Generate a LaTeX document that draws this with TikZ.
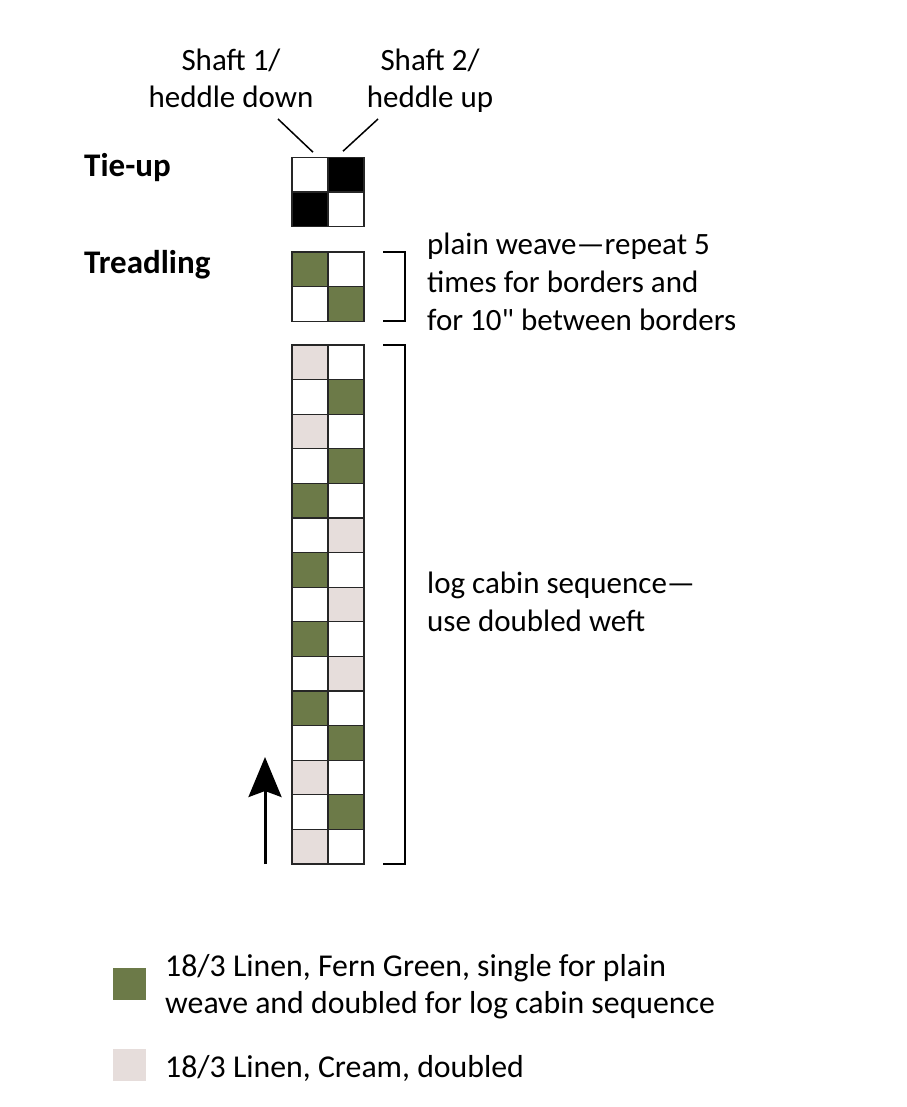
\documentclass[tikz,border=0pt]{standalone}
\usepackage{fontspec}
\setmainfont{Carlito}
\newfontfamily\quoteFace{Carlito}
\usetikzlibrary{arrows.meta}
\definecolor{fernGreen}{RGB}{108,122,72}
\definecolor{linenCream}{RGB}{230,221,219}
\colorlet{gridLine}{black!85}
\tikzset{
  cell/.style={draw=gridLine,line width=1.3pt,minimum width=36pt,minimum height=34.6pt,inner sep=0pt,outer sep=0pt},
  keyBox/.style={minimum width=33pt,minimum height=32pt,inner sep=0pt},
  noteText/.style={font=\fontsize{31}{38}\selectfont,inner sep=0pt},
  keyText/.style={font=\fontsize{31.8}{37}\selectfont,inner sep=0pt},
  headText/.style={font=\fontsize{33}{36}\selectfont\bfseries,inner sep=0pt},
  bracket/.style={line width=1.8pt},
  leader/.style={line width=1.5pt},
}
\NewDocumentCommand\DrawCell{mmmO{white}}%
{%
\node[cell,fill=#4] (#1) at ({#2},{#3}) {};%
}
\begin{document}
\begin{tikzpicture}[x=1pt,y=-1pt]
\useasboundingbox (0,0) rectangle (906,1107);
% tie-up
\DrawCell{tieA1}{310}{174.5}
\DrawCell{tieB1}{346}{174.5}[black]
\DrawCell{tieA2}{310}{209.5}[black]
\DrawCell{tieB2}{346}{209.5}
% treadling
\DrawCell{trA1}{310}{269.3}[fernGreen]
\DrawCell{trB1}{346}{269.3}
\DrawCell{trA2}{310}{303.9}
\DrawCell{trB2}{346}{303.9}[fernGreen]
\foreach \cl/\cr [count=\i] in {linenCream/white,white/fernGreen,linenCream/white,white/fernGreen,fernGreen/white,white/linenCream,fernGreen/white,white/linenCream,fernGreen/white,white/linenCream,fernGreen/white,white/fernGreen,linenCream/white,white/fernGreen,linenCream/white}
{
\DrawCell{lcA\i}{310}{345+34.6*(\i-0.5)}[\cl]
\DrawCell{lcB\i}{346}{345+34.6*(\i-0.5)}[\cr]
}
\node[noteText,font=\fontsize{31}{37}\selectfont,align=center,anchor=base] (shaftA) at (231,108) {Shaft 1/\\heddle down};
\node[noteText,font=\fontsize{31}{37}\selectfont,align=center,anchor=base] (shaftB) at (430,108) {Shaft 2/\\heddle up};
\coordinate (leadA) at (278,119);
\coordinate (leadB) at (378,119);
\draw[leader] (leadA) -- ([xshift=-15pt,yshift=5pt]tieA1.north east);
\draw[leader] (leadB) -- ([xshift=15pt,yshift=6pt]tieB1.north west);
\node[headText,anchor=base west] (tieLabel) at (84,177) {Tie-up};
\node[headText,anchor=base west] (treadLabel) at (84,273) {Treadling};
\draw[bracket] ([xshift=19pt]trB1.north east) -- ++(22,0) |- ([xshift=19pt]trB2.south east);
\draw[bracket] ([xshift=19pt]lcB1.north east) -- ++(22,0) |- ([xshift=19pt]lcB15.south east);
\node[noteText,align=left,anchor=base west] (plainNote) at (427,330) {plain weave---repeat 5\\times for borders and\\for 10{\quoteFace"} between borders};
\node[noteText,align=left,anchor=base west] (logNote) at (427,631) {log cabin sequence---\\use doubled weft};
\coordinate (arrowTip) at (265,757);
\draw[-{Stealth[length=40pt,width=33pt,inset=6pt]},line width=3pt] ([xshift=-27pt]lcA15.south west) -- (arrowTip);
% key
\node[keyBox,fill=fernGreen] (keyGreen) at (129.5,984) {};
\node[keyBox,fill=linenCream] (keyCream) at (129.5,1065) {};
\node[keyText,align=left,anchor=base west] (keyGreenText) at (165,1013) {18/3 Linen, Fern Green, single for plain\\weave and doubled for log cabin sequence};
\node[keyText,anchor=base west] (keyCreamText) at (165,1077) {18/3 Linen, Cream, doubled};
\end{tikzpicture}
\end{document}
